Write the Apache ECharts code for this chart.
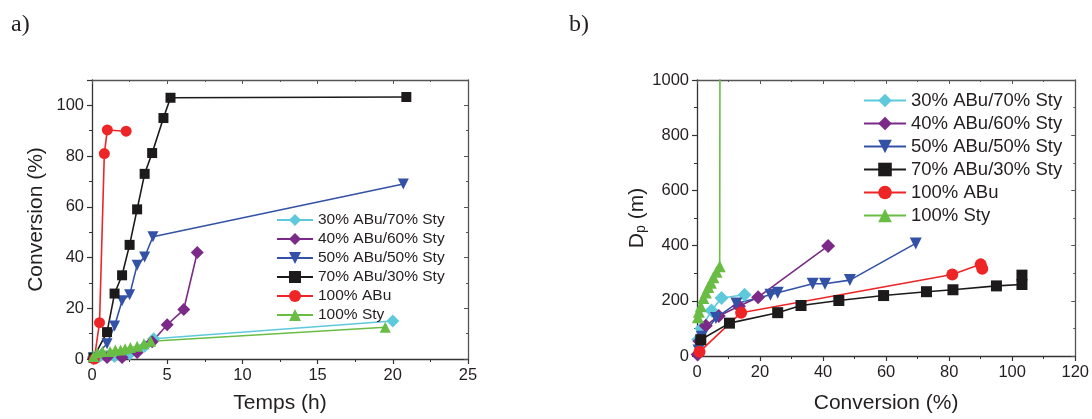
<!DOCTYPE html>
<html>
<head>
<meta charset="utf-8">
<script src="https://cdn.jsdelivr.net/npm/echarts@6/dist/echarts.min.js"></script>
<style>
html,body{margin:0;padding:0;background:#fff;}
#c{width:1092px;height:419px;}
</style>
</head>
<body>
<div id="c"></div>
<script>
// ---- Data ----
const seriesNames = ['30% ABu/70% Sty','40% ABu/60% Sty','50% ABu/50% Sty','70% ABu/30% Sty','100% ABu','100% Sty'];

// Panel a) : Temps (h) vs Conversion (%)
const a_S30 = [[0.1,0.8],[0.5,1],[1,1],[1.5,1],[2,1.5],[2.5,2],[3,3],[3.5,5],[4.1,8],[20,15]];
const a_S40 = [[0.1,0.3],[1,0.6],[2,0.6],[3,2.6],[4,6.8],[5,13.5],[6.1,19.5],[7,42]];
const a_S50 = [[0.1,0.5],[1,6],[1.5,13],[2,23],[2.5,25.3],[3,37],[3.5,40.2],[4.05,48.2],[20.7,69]];
const a_S70 = [[0.1,0.5],[1,10.6],[1.5,25.8],[2,33],[2.5,45],[3,59],[3.5,73],[4,81.2],[4.75,95],[5.22,103],[20.9,103.3]];
const a_S100A = [[0.15,0],[0.5,14.3],[0.82,81],[1.02,90.3],[2.27,89.8]];
const a_S100S = [[0.1,1],[0.35,2.5],[0.7,3],[1.2,3],[1.55,3.5],[1.9,3.5],[2.2,4],[2.55,4.5],[3,5],[3.45,6],[3.9,7],[19.5,12.5]];

// Panel b) : Conversion (%) vs Dp
const b_S30 = [[0.4,60],[1.4,100],[4.6,165],[7.8,210],[15.1,222]];
const b_S40 = [[0.2,5],[0.8,53],[2.8,110],[6.9,145],[13.3,180],[19.4,213],[41.6,399]];
const b_S50 = [[0.5,20],[1.5,70],[6,138],[12.5,190],[23.3,222],[25.6,229],[36.7,262],[40.6,262],[48.5,275],[69.4,408]];
const b_S70 = [[1.2,59],[10.3,119],[25.6,157],[33,183],[45,201],[59.2,219],[72.8,233],[81.2,240],[95,254],[103.1,259],[103.1,293]];
const b_S100A = [[0.8,15],[14,157],[81,295],[90,332],[90.5,316]];
const b_S100S = [[0.3,140],[0.6,160],[1.2,180],[2,210],[2.8,230],[3.6,250],[4.4,265],[5.2,285],[6.2,305],[7.2,325],[7.3,1200]];

// Axis ticks
const a_xTicks = {min:0, max:25, interval:5};
const a_yTicks = {min:0, max:110, interval:20};
const b_xTicks = {min:0, max:120, interval:20};
const b_yTicks = {min:0, max:1000, interval:200};

// ---- Styles ----
const colors = ['#5FC9DC','#7B2B87','#3352A6','#1C1A1A','#EE2526','#69BD45'];
const symbols = ['diamond','diamond','triangle','rect','circle','triangle'];
const rotates = [0,0,180,0,0,0];
const symSizeA = [13,13,11,10,11,11];
const symSizeB = [14,14,12,11,12,12];
const FONT = 'Liberation Sans';
const TXT = '#231F20';

function axisCommon(t, extra){
  return Object.assign({
    type:'value', min:t.min, max:t.max, interval:t.interval,
    axisLine:{show:true, onZero:false, lineStyle:{color:'#333', width:1.3}},
    axisTick:{show:true, inside:false, length:5, lineStyle:{color:'#333', width:1.2}},
    minorTick:{show:true, splitNumber:2, length:3, lineStyle:{color:'#333', width:1}},
    splitLine:{show:false},
    axisLabel:{show:true, color:TXT, fontSize:16.5, fontFamily:FONT, margin:8, formatter:v=>String(v)}
  }, extra);
}
function mirror(t, gridIndex, pos){
  return {
    type:'value', gridIndex, position:pos, min:t.min, max:t.max, interval:t.interval,
    axisLine:{show:true, onZero:false, lineStyle:{color:'#555', width:1.3}},
    axisTick:{show:true, inside:true, length:4, lineStyle:{color:'#555', width:1}},
    minorTick:{show:true, splitNumber:2, length:2, lineStyle:{color:'#555', width:1}},
    splitLine:{show:false}, axisLabel:{show:false}
  };
}

const aData = [a_S30,a_S40,a_S50,a_S70,a_S100A,a_S100S];
const bData = [b_S30,b_S40,b_S50,b_S70,b_S100A,b_S100S];

const series = [];
seriesNames.forEach((n,i)=>{
  series.push({
    name:n, type:'line', xAxisIndex:0, yAxisIndex:0, data:aData[i],
    symbol:symbols[i], symbolRotate:rotates[i], symbolSize:symSizeA[i],
    showAllSymbol:true, clip:true,
    lineStyle:{color:colors[i], width:1.6}, itemStyle:{color:colors[i]}, animation:false
  });
});
seriesNames.forEach((n,i)=>{
  series.push({
    name:n, type:'line', xAxisIndex:2, yAxisIndex:2, data:bData[i],
    symbol:symbols[i], symbolRotate:rotates[i], symbolSize:symSizeB[i],
    showAllSymbol:true, clip:true,
    lineStyle:{color:colors[i], width:1.6}, itemStyle:{color:colors[i]}, animation:false
  });
});

const chart = echarts.init(document.getElementById('c'), null, {renderer:'canvas'});
chart.setOption({
  backgroundColor:'#fff',
  animation:false,
  textStyle:{fontFamily:FONT},
  title:[
    {text:'a)', left:6, top:8, textStyle:{fontFamily:'Liberation Serif', fontWeight:'normal', fontSize:24, color:TXT}},
    {text:'b)', left:564, top:8, textStyle:{fontFamily:'Liberation Serif', fontWeight:'normal', fontSize:24, color:TXT}}
  ],
  grid:[
    {left:92, right:624, top:80, bottom:58},
    {left:697, right:15, top:80, bottom:57}
  ],
  legend:[
    {data:seriesNames, orient:'vertical', left:271, top:206, itemWidth:36, itemHeight:15, itemGap:1,
     textStyle:{fontSize:15.5, color:TXT, fontFamily:FONT, lineHeight:18}},
    {data:seriesNames, orient:'vertical', left:858, top:85, itemWidth:42, itemHeight:17, itemGap:2,
     textStyle:{fontSize:18.5, color:TXT, fontFamily:FONT, lineHeight:21}}
  ],
  xAxis:[
    axisCommon(a_xTicks, {gridIndex:0, position:'bottom', name:'Temps (h)', nameLocation:'middle', nameGap:34,
      nameTextStyle:{fontSize:21, color:TXT, fontFamily:FONT}}),
    mirror(a_xTicks, 0, 'top'),
    axisCommon(b_xTicks, {gridIndex:1, position:'bottom', name:'Conversion (%)', nameLocation:'middle', nameGap:37,
      nameTextStyle:{fontSize:21, color:TXT, fontFamily:FONT}}),
    mirror(b_xTicks, 1, 'top')
  ],
  yAxis:[
    axisCommon(a_yTicks, {gridIndex:0, position:'left', name:'Conversion (%)', nameLocation:'middle', nameGap:45,
      nameTextStyle:{fontSize:21, color:TXT, fontFamily:FONT},
      axisLabel:{show:true, color:TXT, fontSize:16.5, fontFamily:FONT, margin:8, showMaxLabel:false, formatter:v=>String(v)}}),
    mirror(a_yTicks, 0, 'right'),
    axisCommon(b_yTicks, {gridIndex:1, position:'left', nameLocation:'middle', nameGap:40,
      name:'{d|D}{s|p}{d| (m)}',
      nameTextStyle:{color:TXT, fontFamily:FONT, rich:{d:{fontSize:21, color:TXT, fontFamily:FONT}, s:{fontSize:14, color:TXT, fontFamily:FONT, verticalAlign:'bottom', padding:[8,0,0,0]}}}}),
    mirror(b_yTicks, 1, 'right')
  ],
  series:series
});
</script>
</body>
</html>
